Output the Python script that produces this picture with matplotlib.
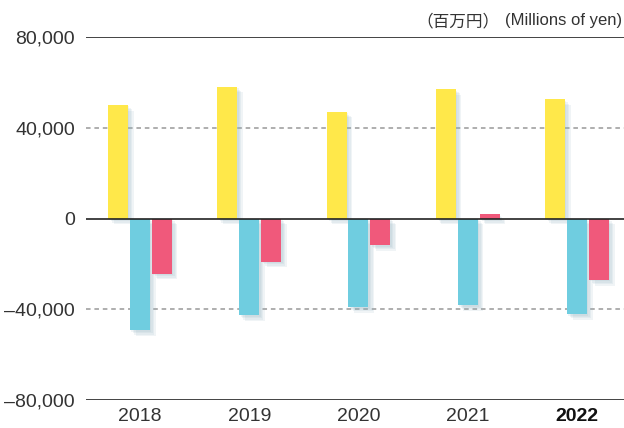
import matplotlib
matplotlib.use("Agg")
import matplotlib.pyplot as plt
import matplotlib.patheffects as pe
import numpy as np

years = ["2018", "2019", "2020", "2021", "2022"]
operating_cf = [50000, 58000, 47000, 57000, 52500]
investing_cf = [-49300, -42700, -39100, -38200, -42200]
financing_cf = [-24300, -19000, -11800, 1800, -27100]
yticks = [-80000, -40000, 0, 40000, 80000]

plt.rcParams['font.family'] = ['Liberation Sans', 'Noto Sans CJK JP', 'DejaVu Sans']

fig = plt.figure(figsize=(6.24, 4.28), dpi=100)
ax = fig.add_axes([86 / 624, 1 - 400 / 428, 1 - 86 / 624, (400 - 37) / 428])

x = np.arange(len(years))
w = 0.183
off = 0.201
# soft shadow: a few faint offset copies
shadow = [pe.SimplePatchShadow(offset=(d, -d), shadow_rgbFace='#8fb0c0', alpha=0.13)
          for d in (1, 2, 3, 4)] + [pe.Normal()]

ax.bar(x - off, operating_cf, w, color='#FFE84A', path_effects=shadow, zorder=3)
ax.bar(x, investing_cf, w, color='#6FCDE0', path_effects=shadow, zorder=3)
ax.bar(x + off, financing_cf, w, color='#F0597B', path_effects=shadow, zorder=3)

# frame lines
for v in [80000, -80000]:
    ax.axhline(v, color='#222222', lw=1.2, zorder=4)
ax.axhline(0, color='#222222', lw=1.2, zorder=4)
for v in [40000, -40000]:
    ax.axhline(v, color='#999999', lw=1.1, ls=(0, (3, 2.5)), zorder=1)

ax.set_ylim(-80000, 80000)
ax.set_xlim(-0.494, 4.43)
ax.set_yticks(yticks)
ax.set_yticklabels([f"{v:,}".replace("-", "\u2013") for v in yticks], fontsize=14, color='#333333')
ax.set_xticks(x)
ax.set_xticklabels(years, fontsize=14, color='#333333')
ax.get_xticklabels()[-1].set_fontweight('bold')
ax.get_xticklabels()[-1].set_color('#111111')
ax.tick_params(axis='y', length=0, pad=8)
ax.tick_params(axis='x', length=0, pad=6)
for s in ax.spines.values():
    s.set_visible(False)

fig.text(499 / 624, 1 - 21 / 428, "（百万円）", ha='right', va='center',
         fontsize=12, color='#333333')
fig.text(622 / 624, 1 - 21 / 428, "(Millions of yen)", ha='right', va='center',
         fontsize=12, color='#333333')

fig.savefig("out.png", dpi=100)
